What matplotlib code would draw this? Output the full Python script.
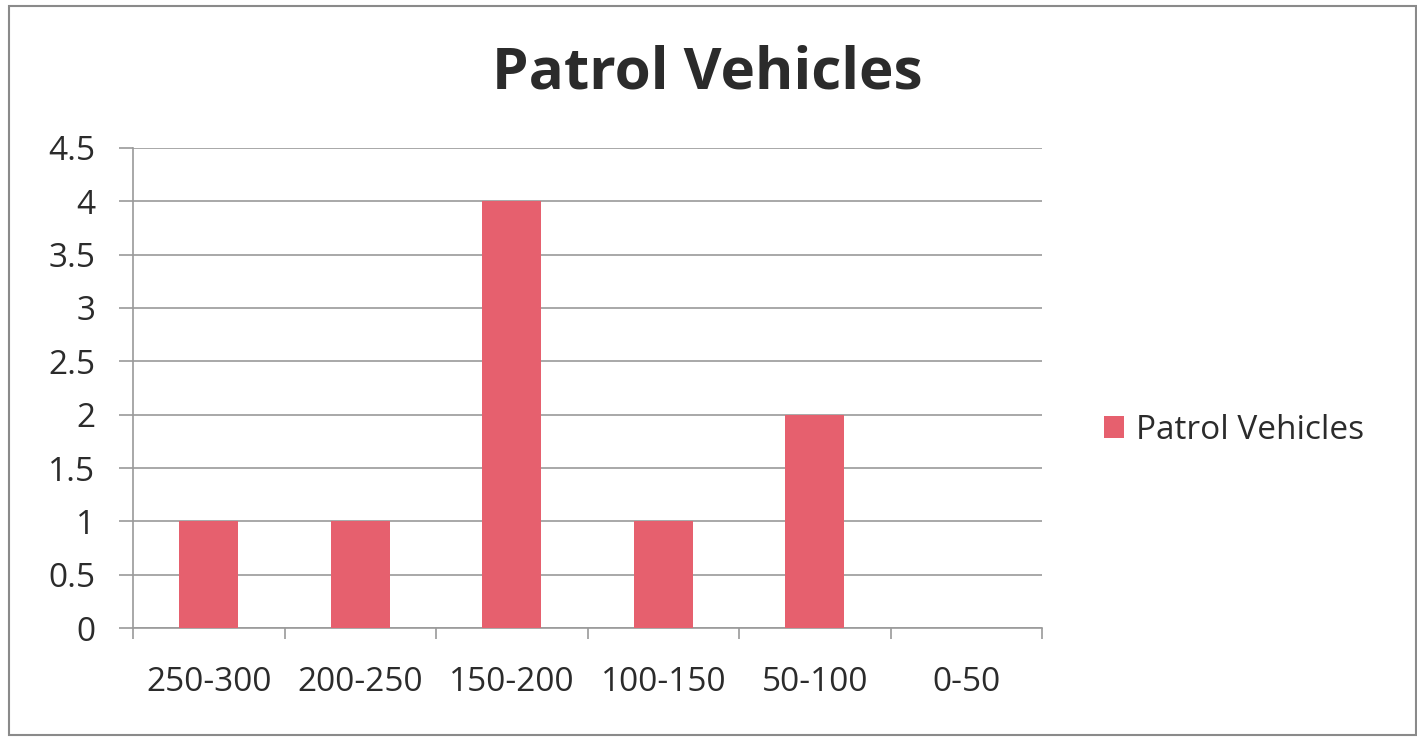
import matplotlib

matplotlib.use("Agg")

import matplotlib.pyplot as plt
from matplotlib.patches import Rectangle

categories = ["250-300", "200-250", "150-200", "100-150", "50-100", "0-50"]
values = [1, 1, 4, 1, 2, 0]
y_ticks = [0, 0.5, 1, 1.5, 2, 2.5, 3, 3.5, 4, 4.5]
y_labels = ["0", "0.5", "1", "1.5", "2", "2.5", "3", "3.5", "4", "4.5"]

BAR_COLOR = "#E6606E"
GRID_COLOR = "#9a9a9a"
TEXT_COLOR = "#2b2b2b"

plt.rcParams["font.family"] = ["Open Sans", "DejaVu Sans"]

fig = plt.figure(figsize=(14.17, 7.38), dpi=100)
ax = fig.add_axes([0.0939, 0.149, 0.6415, 0.6505])

x = list(range(len(categories)))
ax.bar(x, values, width=0.39, color=BAR_COLOR, label="Patrol Vehicles", zorder=3)

ax.set_xlim(-0.5, len(categories) - 0.5)
ax.set_ylim(0, 4.5)
ax.set_yticks(y_ticks)
ax.set_yticklabels(y_labels)
ax.set_xticks(x)
ax.set_xticklabels(categories)
ax.set_xticks([i - 0.5 for i in range(len(categories) + 1)], minor=True)

ax.grid(axis="y", color=GRID_COLOR, linewidth=1.2, zorder=0)
for side in ["top", "right"]:
    ax.spines[side].set_visible(False)
for side in ["left", "bottom"]:
    ax.spines[side].set_color(GRID_COLOR)
    ax.spines[side].set_linewidth(1.2)

ax.tick_params(axis="y", length=10, width=1.2, color=GRID_COLOR, pad=17,
               labelsize=24, labelcolor=TEXT_COLOR)
ax.tick_params(axis="x", which="major", length=0, pad=27,
               labelsize=24, labelcolor=TEXT_COLOR)
ax.tick_params(axis="x", which="minor", length=8, width=1.2, color=GRID_COLOR)

fig.text(0.499, 0.9, "Patrol Vehicles", ha="center", va="center",
         fontsize=42, fontweight="bold", color=TEXT_COLOR)

fig.legend(loc="center left", bbox_to_anchor=(0.758, 0.417), frameon=False,
           fontsize=24, handlelength=0.6, handleheight=0.6, handletextpad=0.35,
           labelcolor=TEXT_COLOR)

fig.patches.append(Rectangle((0.006, 0.004), 0.993, 0.988, transform=fig.transFigure,
                             fill=False, edgecolor="#8a8a8a", linewidth=1.5))

fig.savefig("out.png", dpi=100)
